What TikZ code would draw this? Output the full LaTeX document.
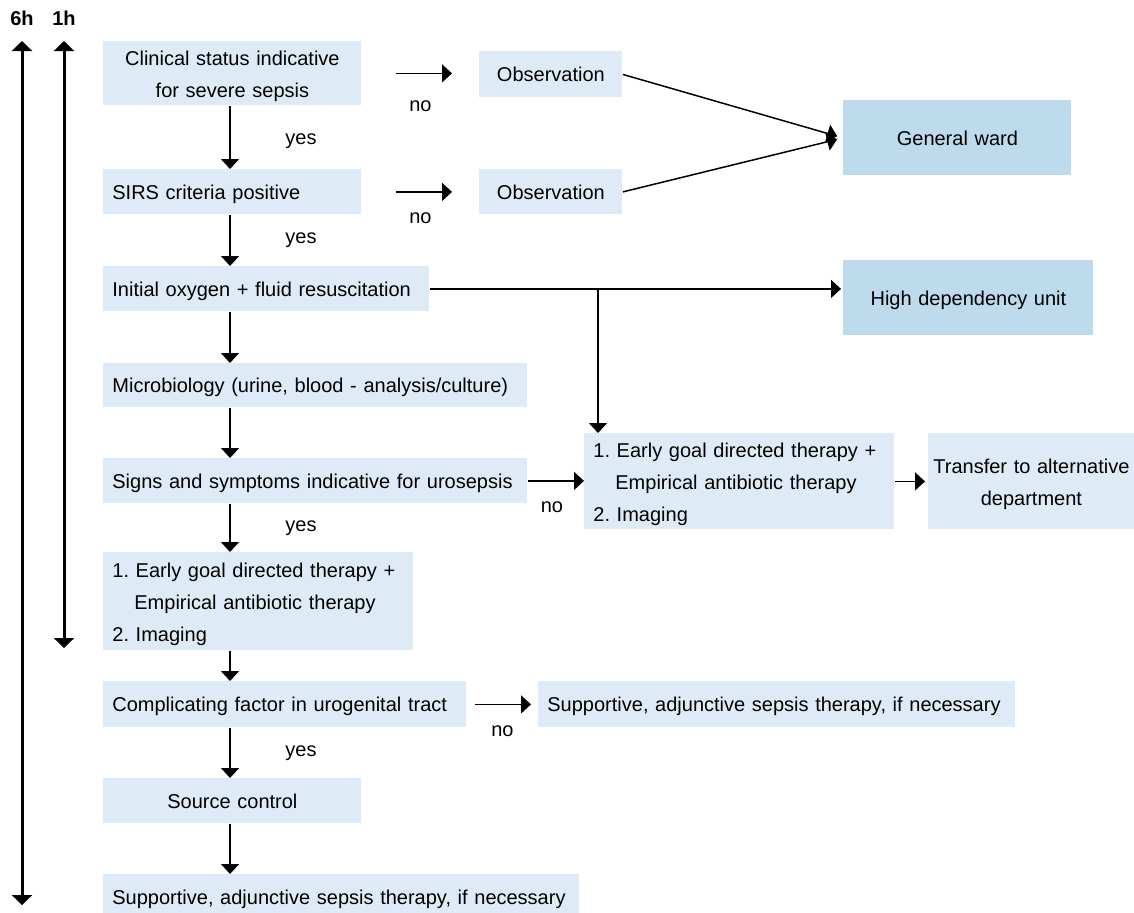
\documentclass[tikz,border=0pt]{standalone}
\usepackage{fontspec}
\setmainfont{Liberation Sans}
\usetikzlibrary{arrows.meta}

\definecolor{paleblue}{RGB}{222,235,246}
\definecolor{wardblue}{RGB}{190,218,237}

\tikzset{
  >={Triangle[length=5pt,width=9pt]},
  box/.style={fill=paleblue, anchor=north west, inner xsep=4.5pt, inner ysep=0pt,
    text depth=0pt, align=left, font=\fontsize{10}{16}\selectfont},
  twolines/.style={text depth=15pt},
  threelines/.style={text depth=31pt},
  ward/.style={box, fill=wardblue, align=center},
  flow/.style={->, line width=0.75pt},
  timeline/.style={<->, line width=1.5pt, >={Triangle[length=5pt,width=10pt]}},
  yeslbl/.style={midway, xshift=35.5pt, font=\fontsize{10}{12}\selectfont},
  nolbl/.style={midway, yshift=-#1, font=\fontsize{10}{12}\selectfont},
  hours/.style={font=\bfseries\fontsize{10}{12}\selectfont}
}

\begin{document}
\begin{tikzpicture}[x=0.5pt, y=-0.5pt]
\useasboundingbox (0,0) rectangle (1134,912);
\clip (0,0) rectangle (1134,912);

% time scale
\node[hours] (t6) at (22,18) {6h};
\node[hours] (t1) at (64,18) {1h};
\coordinate (end6) at (22,905);
\coordinate (end1) at (64,648);

% main column
\node[box, twolines, text width=120pt, minimum height=32pt, align=center] (clin) at (103,41) {Clinical status indicative\\for severe sepsis};
\node[box, text width=120pt, minimum height=22.5pt] (sirs) at (103,169) {SIRS criteria positive};
\node[box, text width=154pt, minimum height=22.5pt] (oxy) at (103,266) {Initial oxygen + fluid resuscitation};
\node[box, text width=203pt, minimum height=22pt] (micro) at (103,363) {Microbiology (urine, blood - analysis/culture)};
\node[box, text width=203pt, minimum height=22.5pt] (signs) at (103,458) {Signs and symptoms indicative for urosepsis};
\node[box, threelines, text width=146pt, minimum height=49pt] (egl) at (103,552) {1.\ Early goal directed therapy +\\\hspace*{11pt}Empirical antibiotic therapy\\2.\ Imaging};
\node[box, text width=172.5pt, minimum height=23pt] (comp) at (103,681) {Complicating factor in urogenital tract};
\node[box, text width=120pt, minimum height=22.5pt, align=center] (source) at (103,778) {Source control};
\node[box, text width=229pt, minimum height=23pt] (supb) at (103,874) {Supportive, adjunctive sepsis therapy, if necessary};

% side branches
\node[box, text width=62.5pt, minimum height=23pt, align=center] (obs1) at (479,51) {Observation};
\node[box, text width=62.5pt, minimum height=22.5pt, align=center] (obs2) at (479,169) {Observation};
\node[ward, text width=105pt, minimum height=37.5pt] (gw) at (843,100) {General ward};
\node[ward, text width=116pt, minimum height=37.5pt] (hdu) at (843,260) {High dependency unit};
\node[box, threelines, text width=146pt, minimum height=48pt] (egr) at (584,433) {1.\ Early goal directed therapy +\\\hspace*{11pt}Empirical antibiotic therapy\\2.\ Imaging};
\node[box, twolines, inner xsep=1pt, text width=101pt, minimum height=48pt, align=center] (trans) at (928,433) {Transfer to alternative\\department};
\node[box, text width=229.5pt, minimum height=23pt] (supr) at (538,681) {Supportive, adjunctive sepsis therapy, if necessary};

\coordinate (spine) at (230,0);
\coordinate (fork) at (598,0);

% time arrows
\draw[timeline] (t6 |- clin.north) -- (end6);
\draw[timeline] (t1 |- clin.north) -- (end1);

% yes path
\draw[flow] (clin.south -| spine) -- node[yeslbl, yshift=-2pt]{yes} (sirs.north -| spine);
\draw[flow] (sirs.south -| spine) -- node[yeslbl]{yes} (oxy.north -| spine);
\draw[flow] (oxy.south -| spine) -- (micro.north -| spine);
\draw[flow] (micro.south -| spine) -- (signs.north -| spine);
\draw[flow] (signs.south -| spine) -- node[yeslbl]{yes} (egl.north -| spine);
\draw[flow] (egl.south -| spine) -- (comp.north -| spine);
\draw[flow] (comp.south -| spine) -- node[yeslbl]{yes} (source.north -| spine);
\draw[flow] (source.south -| spine) -- (supb.north -| spine);

% no path
\draw[flow, shorten <=17pt, shorten >=13.5pt] (clin.east) -- node[nolbl=16.5pt]{no} (clin.east -| obs1.west);
\draw[flow, shorten <=17pt, shorten >=13.5pt] (sirs.east) -- node[nolbl=13pt]{no} (obs2.west);
\draw[flow, shorten >=3pt] (obs1.east) -- (gw.west);
\draw[flow, shorten >=3pt] (obs2.east) -- (gw.west);
\draw[flow, shorten >=1pt] (oxy.east) -- (oxy.east -| hdu.west);
\draw[flow] (oxy.east -| fork) -- (egr.north -| fork);
\draw[flow] (signs.east) -- node[nolbl=13pt, xshift=-2pt]{no} (signs.east -| egr.west);
\draw[flow, shorten >=1.5pt] (egr.east) -- (trans.west);
\draw[flow, shorten <=4pt, shorten >=3.5pt] (comp.east) -- node[nolbl=13.5pt]{no} (supr.west);
\end{tikzpicture}
\end{document}
